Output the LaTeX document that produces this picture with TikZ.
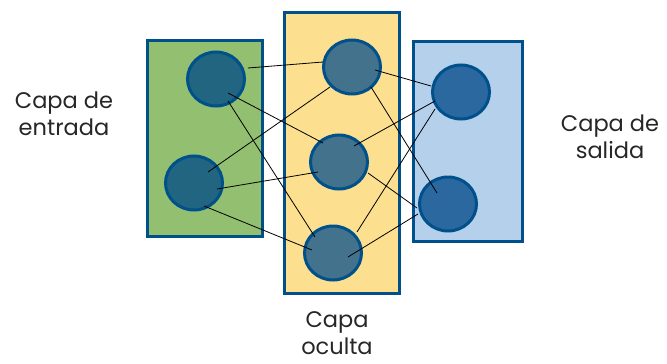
\documentclass[tikz,border=0pt]{standalone}
\usepackage{fontspec}
\setmainfont{Poppins}
\usetikzlibrary{shapes.geometric,calc}
\definecolor{edgeblue}{HTML}{00508C}
\definecolor{greenfill}{HTML}{93BF70}
\definecolor{yellowfill}{HTML}{FCE08F}
\definecolor{bluefill}{HTML}{B4D0EA}
\definecolor{inneuron}{HTML}{226580}
\definecolor{hidneuron}{HTML}{43728C}
\definecolor{outneuron}{HTML}{2B68A0}
\tikzset{
  layerbox/.style={draw=edgeblue, line width=3pt},
  neuron/.style={ellipse, draw=edgeblue, line width=3pt, minimum width=57pt, minimum height=54pt, inner sep=0pt},
  link/.style={black, line width=0.8pt},
  caption/.style={align=center, inner sep=0pt, font=\fontsize{22.5}{27.5}\selectfont, text=black!85}
}
\begin{document}
\begin{tikzpicture}[x=1pt,y=-1pt]
\useasboundingbox (0,0) rectangle (667,364);
% layers
\node[layerbox, fill=greenfill, minimum width=115pt, minimum height=196pt, inner sep=0pt] (inbox) at (204.5,138) {};
\node[layerbox, fill=yellowfill, minimum width=115pt, minimum height=281pt, inner sep=0pt] (hidbox) at (341.5,152.5) {};
\node[layerbox, fill=bluefill, minimum width=109pt, minimum height=200pt, inner sep=0pt] (outbox) at (467.5,141) {};
% neurons
\node[neuron, fill=inneuron] (i1) at (216,79) {};
\node[neuron, fill=inneuron] (i2) at (194,183) {};
\node[neuron, fill=hidneuron] (h1) at (352,67) {};
\node[neuron, fill=hidneuron] (h2) at (339,162) {};
\node[neuron, fill=hidneuron] (h3) at (333,253) {};
\node[neuron, fill=outneuron] (o1) at (461,92) {};
\node[neuron, fill=outneuron] (o2) at (448,204) {};
% connections, input to hidden
\draw[link] ($(i1)+(32,-11)$) -- ($(h1)+(-29,-5)$);
\draw[link] ($(i1)+(12,14)$) -- ($(h2)+(-16,-19)$);
\draw[link] ($(i1)+(12,22)$) -- ($(h3)+(-18,-16)$);
\draw[link] ($(i2)+(14,-11)$) -- ($(h1)+(-22,20)$);
\draw[link] ($(i2)+(23,6)$) -- ($(h2)+(-21,10)$);
\draw[link] ($(i2)+(10,23)$) -- ($(h3)+(-21,-3)$);
% connections, hidden to output
\draw[link] ($(h1)+(23,3)$) -- ($(o1)+(-30,-6)$);
\draw[link] ($(h1)+(19,20)$) -- ($(o2)+(-11,-11)$);
\draw[link] ($(h2)+(15,-16)$) -- ($(o1)+(-26,9)$);
\draw[link] ($(h2)+(29,11)$) -- ($(o2)+(-31,4)$);
\draw[link] ($(h3)+(24,-21)$) -- ($(o1)+(-26,17)$);
\draw[link] ($(h3)+(15,4)$) -- ($(o2)+(-30,10)$);
% captions
\node[caption] (incap) at (64,114) {Capa de\\entrada};
\node[caption] (outcap) at (610,137) {Capa de\\salida};
\node[caption] (hidcap) at (337,333) {Capa\\oculta};
\end{tikzpicture}
\end{document}
